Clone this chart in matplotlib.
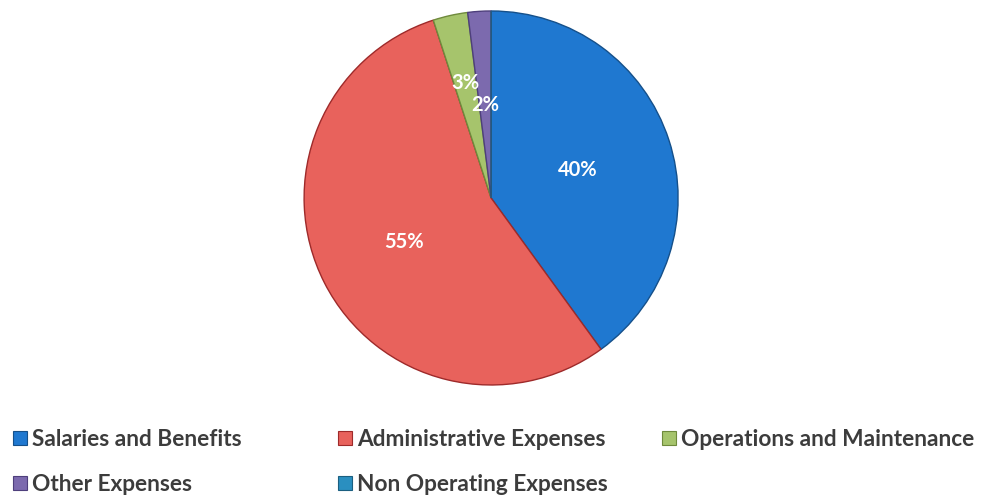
import matplotlib.pyplot as plt
from matplotlib.lines import Line2D
import numpy as np

# data
categories = ['Salaries and Benefits', 'Administrative Expenses',
              'Operations and Maintenance', 'Other Expenses',
              'Non Operating Expenses']
shares = [40, 55, 3, 2, 0]
colors = ['#1f78d0', '#e8625c', '#a6c46c', '#7c6aae', '#2a8fc0']
edges = ['#15508a', '#9e2a2a', '#6f8a3c', '#4e3f7c', '#1b5f80']
label_dist = [0.49, 0.52, 0.63, 0.50, 0.5]

plt.rcParams['font.family'] = ['Lato', 'DejaVu Sans']

fig = plt.figure(figsize=(9.82, 4.97), dpi=100)
ax = fig.add_axes([0.3096, 0.2254, 0.381, 0.7525])

wedges, texts, autotexts = ax.pie(
    shares, colors=colors, startangle=90, counterclock=False,
    autopct=lambda p: f'{p:.0f}%' if p > 0.5 else '', pctdistance=0.5,
    wedgeprops=dict(linewidth=1.0),
    textprops=dict(color='white', fontsize=14.5, fontweight='bold'))

for w, e in zip(wedges, edges):
    w.set_edgecolor(e)

# move each percent label to its own distance along the wedge's middle
for w, t, d in zip(wedges, autotexts, label_dist):
    ang = np.deg2rad((w.theta1 + w.theta2) / 2)
    t.set_position((d * np.cos(ang), d * np.sin(ang)))

ax.set_xlim(-1, 1)
ax.set_ylim(-1, 1)
ax.set_aspect('equal')
ax.axis('off')

# legend, three columns placed by hand
handles = [Line2D([], [], marker='s', linestyle='', markersize=10.5,
                  markerfacecolor=c, markeredgecolor=e, markeredgewidth=0.8)
           for c, e in zip(colors, edges)]
columns = [[0, 3], [1, 4], [2]]
col_x = [0.0126, 0.3436, 0.6735]
for idx, cx in zip(columns, col_x):
    fig.legend([handles[i] for i in idx], [categories[i] for i in idx],
               loc='upper left', bbox_to_anchor=(cx, 0.137), frameon=False,
               handlelength=0.7, handletextpad=0.15,
               labelspacing=1.05, borderaxespad=0, borderpad=0,
               prop=dict(weight='bold', size=16.3))
for leg in fig.legends:
    for t in leg.get_texts():
        t.set_color('#3c3c3c')

fig.savefig('out.png', dpi=100, facecolor='white')
